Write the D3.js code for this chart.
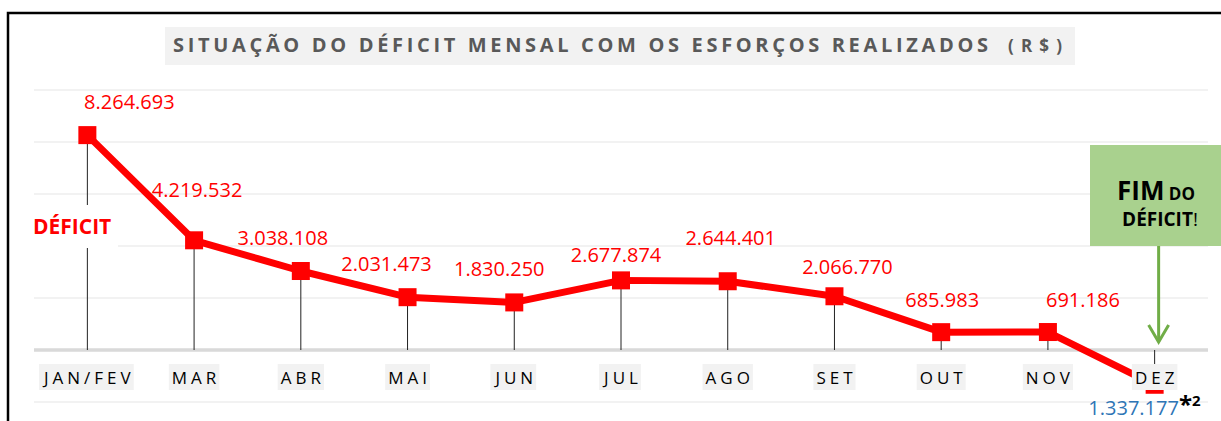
<!DOCTYPE html>
<html>
<head>
<meta charset="utf-8">
<script src="https://cdn.jsdelivr.net/npm/d3@7"></script>
<style>
  body { margin: 0; background: #fff; }
  svg { display: block; font-family: "Open Sans", sans-serif; }
</style>
</head>
<body>
<svg id="chart"></svg>
<script>
// data
const months = ['JAN/FEV', 'MAR', 'ABR', 'MAI', 'JUN', 'JUL', 'AGO', 'SET', 'OUT', 'NOV', 'DEZ'];
const deficit = [8264693, 4219532, 3038108, 2031473, 1830250, 2677874, 2644401, 2066770, 685983, 691186, -1337177];
const gridValues = [-2000000, 0, 2000000, 4000000, 6000000, 8000000, 10000000];
const titleText = 'SITUAÇÃO DO DÉFICIT MENSAL COM OS ESFORÇOS REALIZADOS';
const titleUnit = '(R$)';

// where each value label sits relative to its point (dx, baseline dy)
const labelShift = [[42, -26], [3, -43], [-18, -26], [-21, -26], [-15, -26], [-5, -18],
                    [3, -36], [13, -22], [1, -25], [35, -25], [-21, 30]];

const fmt = v => d3.format(',')(Math.abs(v)).replace(/,/g, '.');

class DeficitChart {

    constructor(config){
        this.config = {
            parent: config.parent,
            width: config.width || 1221,
            height: config.height || 421,
            left: 34, right: 1208,
            top: 90, bottom: 402
        };
        this.init();
    }

    init(){
        let self = this;
        self.svg = d3.select(self.config.parent)
            .attr('width', self.config.width)
            .attr('height', self.config.height);

        self.x = d3.scaleBand()
            .domain(months)
            .range([self.config.left, self.config.right]);

        self.y = d3.scaleLinear()
            .domain([d3.min(gridValues), d3.max(gridValues)])
            .range([self.config.bottom, self.config.top]);
    }

    render(){
        let self = this;
        const svg = self.svg;
        const cx = d => self.x(d) + self.x.bandwidth() / 2;

        // frame
        svg.append('path')
            .attr('d', 'M8,421 V13 H1221')
            .attr('fill', 'none')
            .attr('stroke', '#000')
            .attr('stroke-width', 2.5);

        // title
        svg.append('rect')
            .attr('x', 165).attr('y', 27)
            .attr('width', 910).attr('height', 38)
            .attr('fill', '#f2f2f2');
        svg.append('text')
            .attr('x', 173).attr('y', 52)
            .attr('textLength', 815)
            .attr('lengthAdjust', 'spacing')
            .style('font-size', '20px')
            .style('font-weight', 'bold')
            .attr('fill', '#595959')
            .text(titleText);
        svg.append('text')
            .attr('x', 1008).attr('y', 52)
            .attr('textLength', 54)
            .attr('lengthAdjust', 'spacing')
            .style('font-size', '17px')
            .style('font-weight', 'bold')
            .attr('fill', '#595959')
            .text(titleUnit);

        // gridlines
        svg.append('g').selectAll('line')
            .data(gridValues.filter(v => v !== 0))
            .join('line')
            .attr('x1', self.config.left).attr('x2', self.config.right)
            .attr('y1', d => self.y(d)).attr('y2', d => self.y(d))
            .attr('stroke', '#eeeeee')
            .attr('stroke-width', 1.5);

        svg.append('line')
            .attr('x1', self.config.left).attr('x2', self.config.right)
            .attr('y1', self.y(0)).attr('y2', self.y(0))
            .attr('stroke', '#d9d9d9')
            .attr('stroke-width', 3.5);

        // drop lines
        svg.append('g').selectAll('line')
            .data(months)
            .join('line')
            .attr('x1', d => cx(d)).attr('x2', d => cx(d))
            .attr('y1', (d, i) => self.y(deficit[i]))
            .attr('y2', self.y(0))
            .attr('stroke', '#222')
            .attr('stroke-width', 1);

        // DÉFICIT tag over the first drop line
        svg.append('rect')
            .attr('x', 30).attr('y', 205)
            .attr('width', 88).attr('height', 43)
            .attr('fill', '#fff');
        svg.append('text')
            .attr('x', 33).attr('y', 234)
            .style('font-size', '21px')
            .style('font-weight', 'bold')
            .attr('fill', '#ff0000')
            .text('DÉFICIT');

        // line + markers
        const line = d3.line()
            .x((d, i) => cx(months[i]))
            .y(d => self.y(d));

        svg.append('path')
            .datum(deficit)
            .attr('d', line)
            .attr('fill', 'none')
            .attr('stroke', '#ff0000')
            .attr('stroke-width', 7)
            .attr('stroke-linejoin', 'round');

        const ms = 18;
        svg.append('g').selectAll('rect')
            .data(deficit)
            .join('rect')
            .attr('x', (d, i) => cx(months[i]) - ms / 2)
            .attr('y', d => self.y(d) - ms / 2)
            .attr('width', ms).attr('height', ms)
            .attr('fill', '#ff0000');

        // month labels with grey boxes
        const ticks = svg.append('g').selectAll('g')
            .data(months)
            .join('g');
        ticks.append('text')
            .attr('x', d => cx(d) + 2)
            .attr('y', 384)
            .attr('text-anchor', 'middle')
            .style('font-size', '17px')
            .style('letter-spacing', '4px')
            .attr('fill', '#000')
            .text(d => d);
        ticks.each(function(){
            const g = d3.select(this);
            const b = g.select('text').node().getBBox();
            g.insert('rect', 'text')
                .attr('x', b.x - 3).attr('y', 364)
                .attr('width', b.width + 2).attr('height', 26)
                .attr('fill', '#f2f2f2');
        });

        // value labels
        svg.append('g').selectAll('text')
            .data(deficit)
            .join('text')
            .attr('x', (d, i) => cx(months[i]) + labelShift[i][0])
            .attr('y', (d, i) => self.y(d) + labelShift[i][1])
            .attr('text-anchor', 'middle')
            .style('font-size', '20px')
            .attr('fill', d => d < 0 ? '#2e75b6' : '#ff0000')
            .text(d => fmt(d));

        // footnote mark
        const fn = svg.append('text')
            .attr('x', 1179).attr('y', 413)
            .style('font-weight', 'bold')
            .attr('fill', '#000');
        fn.append('tspan').style('font-size', '24px').text('*');
        fn.append('tspan').style('font-size', '15px').attr('dy', -7).text('2');

        // callout
        const endX = cx(months[months.length - 1]) + 4;
        svg.append('rect')
            .attr('x', 1090).attr('y', 145)
            .attr('width', 140).attr('height', 101)
            .attr('fill', '#a9d18e');
        const c1 = svg.append('text')
            .attr('x', 1156).attr('y', 200)
            .attr('text-anchor', 'middle')
            .style('font-weight', 'bold')
            .attr('fill', '#000');
        c1.append('tspan').style('font-size', '26px').text('FIM');
        c1.append('tspan').style('font-size', '17px').text(' DO');
        const c2 = svg.append('text')
            .attr('x', 1160).attr('y', 226)
            .attr('text-anchor', 'middle')
            .style('font-size', '19px')
            .attr('fill', '#000');
        c2.append('tspan').style('font-weight', 'bold').text('DÉFICIT');
        c2.append('tspan').text('!');

        svg.append('line')
            .attr('x1', endX).attr('x2', endX)
            .attr('y1', 246).attr('y2', 342)
            .attr('stroke', '#70ad47')
            .attr('stroke-width', 3);
        svg.append('path')
            .attr('d', `M${endX - 10},325 L${endX},342 L${endX + 10},325`)
            .attr('fill', 'none')
            .attr('stroke', '#70ad47')
            .attr('stroke-width', 3);
    }
}

const chart = new DeficitChart({ parent: '#chart', width: 1221, height: 421 });
chart.render();
</script>
</body>
</html>
